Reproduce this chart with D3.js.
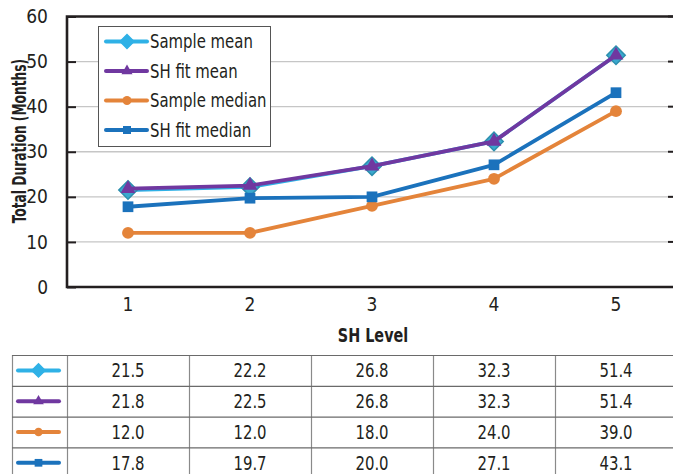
<!DOCTYPE html>
<html>
<head>
<meta charset="utf-8">
<script src="https://cdn.jsdelivr.net/npm/d3@7"></script>
<style>
  body { margin: 0; background: #fff; }
  svg { display: block; }
  text { font-family: 'Liberation Sans Narrow', 'DejaVu Sans Condensed', sans-serif; fill: #231f20; }
</style>
</head>
<body>
<svg id="chart" width="673" height="474"></svg>
<script>
// chart values
const levels = ['1', '2', '3', '4', '5'];
const sampleMean = [21.5, 22.2, 26.8, 32.3, 51.4];
const fitMean = [21.8, 22.5, 26.8, 32.3, 51.4];
const sampleMedian = [12.0, 12.0, 18.0, 24.0, 39.0];
const fitMedian = [17.8, 19.7, 20.0, 27.1, 43.1];
const yTicks = [0, 10, 20, 30, 40, 50, 60];

const series = [
  { name: 'Sample mean', values: sampleMean, color: '#2fb1e6', mark: '#3aa9cf', edge: '#2d8fae', shape: 'diamond' },
  { name: 'SH fit mean', values: fitMean, color: '#7038a0', mark: '#7038a0', edge: '#7038a0', shape: 'triangle' },
  { name: 'Sample median', values: sampleMedian, color: '#e4843a', mark: '#e4843a', edge: '#e4843a', shape: 'circle' },
  { name: 'SH fit median', values: fitMedian, color: '#1b72bc', mark: '#1b72bc', edge: '#1b72bc', shape: 'square' }
];

const svg = d3.select('#chart');
const pLeft = 67, pRight = 677, pTop = 16.5, pBottom = 287;

const x = d3.scaleBand().domain(levels).range([pLeft, pRight]).padding(0);
const y = d3.scaleLinear().domain([0, 60]).range([pBottom, pTop]);
const cx = d => x(d) + x.bandwidth() / 2;

// narrow text: the fonts here are wider than the original condensed face
const label = (g, tx, ty, str, size, sx, anchor, bold) => g.append('text')
  .attr('transform', `translate(${tx},${ty}) scale(${sx},1)`)
  .attr('dy', '0.35em')
  .attr('text-anchor', anchor)
  .attr('font-size', size)
  .attr('font-weight', bold ? 'bold' : null)
  .text(str);

// marker path, scaled by k
const markerPath = (shape, k) => {
  if (shape === 'diamond') return d3.symbol(d3.symbolSquare, 170 * k * k)();
  if (shape === 'triangle') return d3.symbol(d3.symbolTriangle, 95 * k * k)();
  if (shape === 'circle') return d3.symbol(d3.symbolCircle, 110 * k * k)();
  return d3.symbol(d3.symbolSquare, 115 * k * k)();
};
const drawMarker = (g, s, px, py, k, fill, edge) => {
  g.append('path')
    .attr('d', markerPath(s.shape, k))
    .attr('transform', `translate(${px},${py})` + (s.shape === 'diamond' ? ' rotate(45)' : ''))
    .attr('fill', fill)
    .attr('stroke', edge)
    .attr('stroke-width', s.shape === 'diamond' ? 1.5 : 0);
};

// gridlines
svg.append('g')
  .selectAll('line')
  .data(yTicks.filter(t => t > 0 && t < 60))
  .join('line')
  .attr('x1', pLeft).attr('x2', pRight)
  .attr('y1', d => y(d)).attr('y2', d => y(d))
  .attr('stroke', '#c6c6c6').attr('stroke-width', 1.3);

// left axis, ticks pointing in
const yAxis = d3.axisLeft(y).tickValues(yTicks).tickSize(-9).tickPadding(19);
const ya = svg.append('g').attr('transform', `translate(${pLeft},0)`).call(yAxis);
ya.select('.domain').remove();
ya.selectAll('.tick line').attr('stroke', '#231f20').attr('stroke-width', 2);
ya.selectAll('.tick text').attr('font-size', 19).style('font-family', null).attr('fill', '#231f20');

// right side ticks
svg.append('g')
  .selectAll('line')
  .data(yTicks)
  .join('line')
  .attr('x1', pRight - 9).attr('x2', pRight)
  .attr('y1', d => y(d)).attr('y2', d => y(d))
  .attr('stroke', '#231f20').attr('stroke-width', 2);

// frame
svg.append('path')
  .attr('d', `M${pRight},${pTop} H${pLeft} V${pBottom} H${pRight}`)
  .attr('fill', 'none').attr('stroke', '#231f20').attr('stroke-width', 2.6);

// x labels
const xAxis = d3.axisBottom(x).tickSize(0).tickPadding(11);
const xa = svg.append('g').attr('transform', `translate(0,${pBottom})`).call(xAxis);
xa.select('.domain').remove();
xa.selectAll('.tick text').attr('font-size', 19).style('font-family', null).attr('fill', '#231f20');

// axis titles
label(svg, (pLeft + pRight) / 2 + 1, 335, 'SH Level', 19.5, 0.82, 'middle', true);

svg.append('text')
  .attr('transform', `translate(19,141) rotate(-90) scale(0.68,1)`)
  .attr('dy', '0.35em')
  .attr('text-anchor', 'middle')
  .attr('font-size', 20).attr('font-weight', 'bold')
  .text('Total Duration (Months)');

// lines + markers
const line = d3.line().x((d, i) => cx(levels[i])).y(d => y(d));
series.forEach(s => {
  const g = svg.append('g');
  g.append('path')
    .attr('d', line(s.values))
    .attr('fill', 'none')
    .attr('stroke', s.color).attr('stroke-width', 3.8)
    .attr('stroke-linejoin', 'round');
  s.values.forEach((v, i) => drawMarker(g, s, cx(levels[i]), y(v), 1, s.mark, s.edge));
});

// legend
const lg = svg.append('g');
lg.append('rect')
  .attr('x', 98.5).attr('y', 26.5).attr('width', 172).attr('height', 120)
  .attr('fill', '#fff').attr('stroke', '#555').attr('stroke-width', 1);
series.forEach((s, i) => {
  const ly = 41.5 + i * 29.5;
  lg.append('line')
    .attr('x1', 106).attr('x2', 147).attr('y1', ly).attr('y2', ly)
    .attr('stroke', s.color).attr('stroke-width', 4).attr('stroke-linecap', 'round');
  drawMarker(lg, s, 127, ly, 0.75, s.color, s.color);
  label(lg, 150, ly, s.name, 19.5, 0.85, 'start', false);
});

// data table
const tTop = 355, rowH = 30.8, tLeft = 12;
const tg = svg.append('g');
series.forEach((s, r) => {
  const ry = tTop + r * rowH;
  const my = ry + rowH / 2;
  tg.append('line')
    .attr('x1', 18).attr('x2', 59).attr('y1', my).attr('y2', my)
    .attr('stroke', s.color).attr('stroke-width', 4).attr('stroke-linecap', 'round');
  drawMarker(tg, s, 38.5, my, 0.72, s.color, s.color);
  s.values.forEach((v, i) => {
    label(tg, cx(levels[i]), my, v.toFixed(1), 19.5, 0.85, 'middle', false);
  });
});
// table grid
const colEdges = [tLeft, pLeft].concat(levels.map(l => x(l) + x.bandwidth()));
colEdges.forEach(cxE => {
  tg.append('line')
    .attr('x1', cxE + 0.5).attr('x2', cxE + 0.5)
    .attr('y1', tTop).attr('y2', tTop + rowH * 4)
    .attr('stroke', '#8a8a8a').attr('stroke-width', 1.2);
});
d3.range(5).forEach(r => {
  tg.append('line')
    .attr('x1', tLeft).attr('x2', pRight)
    .attr('y1', tTop + r * rowH + 0.5).attr('y2', tTop + r * rowH + 0.5)
    .attr('stroke', '#6a6a6a').attr('stroke-width', 1.2);
});
</script>
</body>
</html>
